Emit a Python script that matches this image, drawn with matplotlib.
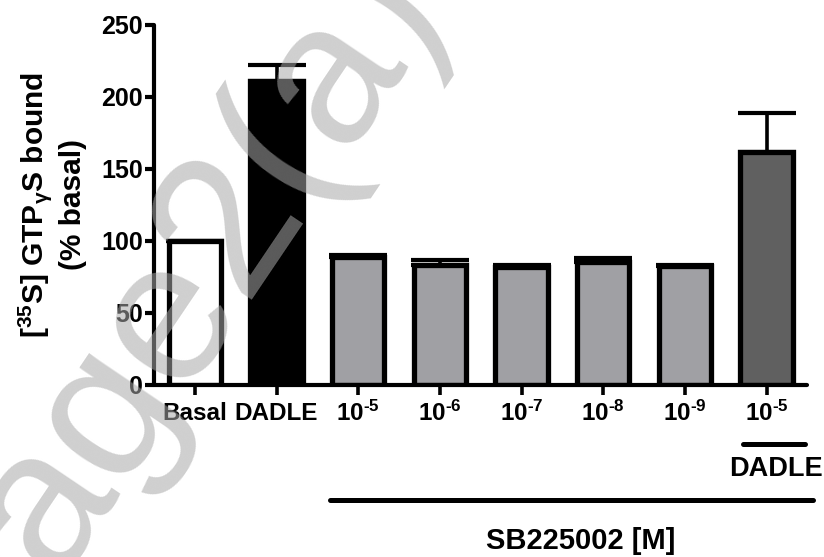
import matplotlib
matplotlib.use("Agg")
import matplotlib.pyplot as plt
from matplotlib.transforms import blended_transform_factory

plt.rcParams['font.family'] = ['Liberation Sans', 'DejaVu Sans']
plt.rcParams['font.weight'] = 'bold'
plt.rcParams['mathtext.fontset'] = 'custom'
plt.rcParams['mathtext.rm'] = 'Liberation Sans:bold'
plt.rcParams['mathtext.it'] = 'Liberation Sans:bold'
plt.rcParams['mathtext.bf'] = 'Liberation Sans:bold'
plt.rcParams['mathtext.sf'] = 'Liberation Sans:bold'

# ---- data ----
categories = ['Basal', 'DADLE', r'$10^{\text{-5}}$', r'$10^{\text{-6}}$',
              r'$10^{\text{-7}}$', r'$10^{\text{-8}}$', r'$10^{\text{-9}}$',
              r'$10^{\text{-5}}$']
values = [100, 211, 89, 83.5, 81.6, 85.5, 82.3, 162]
errors = [0, 11, 1, 3, 2, 3, 1.2, 27]
colors = ['#ffffff', '#000000', '#a0a0a4', '#a0a0a4', '#a0a0a4',
          '#a0a0a4', '#a0a0a4', '#606060']
yticks = [0, 50, 100, 150, 200, 250]
ylabel = '[$^{35}$S] GTP$_{\\gamma}$S bound\n(% basal)'
group_label = 'SB225002 [M]'
sub_label = 'DADLE'
watermark = 'page2(a)'

W, H = 824, 557
fig = plt.figure(figsize=(W / 100, H / 100), dpi=100)
ax_left, ax_right, ax_top, ax_bottom = 154, 807.4, 25, 385
ax = fig.add_axes([ax_left / W, 1 - ax_bottom / H,
                   (ax_right - ax_left) / W, (ax_bottom - ax_top) / H])

x = list(range(len(values)))
ax.bar(x, values, width=0.64, color=colors, edgecolor='black',
       linewidth=3.8, zorder=2)
ax.errorbar(x, values, yerr=[[0] * len(errors), errors], fmt='none',
            ecolor='black', elinewidth=2.6, capsize=21, capthick=3.0,
            zorder=3)

ax.set_xlim(-0.5, 7.5)
ax.set_ylim(0, 250)
ax.set_yticks(yticks)
ax.set_yticklabels([str(v) for v in yticks])
ax.set_xticks(x)
ax.set_xticklabels(categories, va='baseline')

for s in ['top', 'right']:
    ax.spines[s].set_visible(False)
for s in ['left', 'bottom']:
    ax.spines[s].set_linewidth(3.0)
    ax.spines[s].set_capstyle('round')

ax.tick_params(axis='y', direction='out', length=6.5, width=3.0,
               labelsize=18, pad=1.5)
ax.tick_params(axis='x', direction='out', length=7, width=2.6,
               labelsize=17.5, pad=18.5)

fig.text(51.5 / W, 1 - 204.5 / H, ylabel, rotation=90, ha='center',
         va='center', multialignment='center', fontsize=21.5,
         linespacing=1.2, fontweight='bold')

trans = blended_transform_factory(ax.transData, fig.transFigure)
ax.plot([6.706, 7.473], [1 - 444 / H, 1 - 444 / H], color='black', lw=3.6,
        solid_capstyle='round', transform=trans, clip_on=False)
ax.plot([1.653, 7.567], [1 - 500 / H, 1 - 500 / H], color='black', lw=3.6,
        solid_capstyle='round', transform=trans, clip_on=False)
ax.text(7.114, 1 - 469.5 / H, sub_label, transform=trans, ha='center',
        va='center', fontsize=19.5, fontweight='bold')
ax.text(4.726, 1 - 541 / H, group_label, transform=trans, ha='center',
        va='center', fontsize=21, fontweight='bold')

fig.text(174 / W, 1 - 305 / H, watermark, rotation=56, ha='center',
         va='center', rotation_mode='anchor', fontsize=145,
         fontweight='normal', color='#a8a8a8', alpha=0.55, zorder=10,
         family='Liberation Sans')

fig.savefig('out.png', dpi=100)
